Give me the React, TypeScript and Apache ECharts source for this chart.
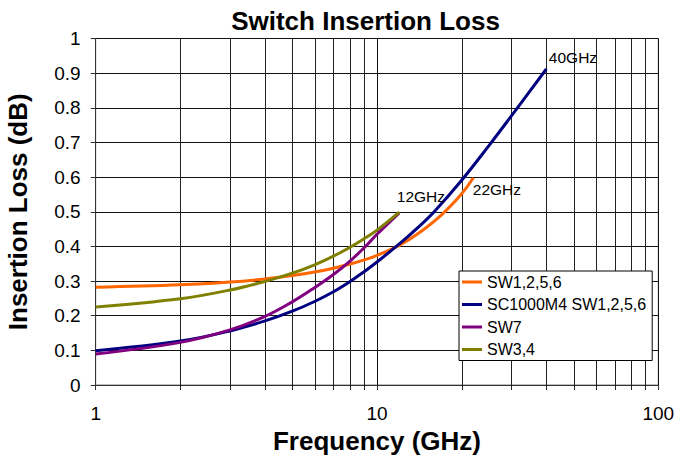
import React, { useEffect, useRef } from "react";
import * as echarts from "echarts";

const FONT = "'Liberation Sans', Arial, Helvetica, sans-serif";

const seriesNames = ["SW1,2,5,6", "SC1000M4 SW1,2,5,6", "SW7", "SW3,4"];
const seriesColors = ["#FF6600", "#000080", "#800080", "#808000"];

const freqSW1256 = [1, 2, 3, 4, 5, 6, 7, 8, 9, 10, 12, 14, 17, 20, 22];
const lossSW1256 = [0.282, 0.289, 0.297, 0.306, 0.316, 0.326, 0.337, 0.349, 0.361, 0.374, 0.403, 0.437, 0.492, 0.552, 0.598];

const freqSC1000 = [1, 2, 3, 4, 5, 6, 7, 8, 9, 10, 12, 14, 16, 20, 25, 30, 40];
const lossSC1000 = [0.099, 0.127, 0.156, 0.185, 0.213, 0.241, 0.269, 0.298, 0.327, 0.355, 0.407, 0.455, 0.501, 0.591, 0.691, 0.776, 0.912];

const freqSW7 = [1, 2, 3, 4, 5, 6, 7, 8, 9, 10, 12];
const lossSW7 = [0.0895, 0.123, 0.159, 0.198, 0.24, 0.281, 0.319, 0.357, 0.396, 0.435, 0.497];

const freqSW34 = [1, 2, 3, 4, 5, 6, 7, 8, 9, 10, 12];
const lossSW34 = [0.225, 0.249, 0.274, 0.299, 0.323, 0.347, 0.372, 0.397, 0.422, 0.447, 0.499];

const minorFreqs = [2, 3, 4, 5, 6, 7, 8, 9, 20, 30, 40, 50, 60, 70, 80, 90];

const annotations = [
  { series: 1, freq: 40, loss: 0.912, text: "40GHz", pos: [3, -11] },
  { series: 0, freq: 22, loss: 0.598, text: "22GHz", pos: [0, 12.5] },
  { series: 3, freq: 12, loss: 0.499, text: "12GHz", pos: [-2, -15.5] },
];

const zip = (xs: number[], ys: number[]) => xs.map((x, i) => [x, ys[i]]);

export default function App() {
  const ref = useRef<HTMLDivElement>(null);

  useEffect(() => {
    if (!ref.current) return;
    const chart = echarts.init(ref.current, undefined, { renderer: "svg" });

    const data = [
      zip(freqSW1256, lossSW1256),
      zip(freqSC1000, lossSC1000),
      zip(freqSW7, lossSW7),
      zip(freqSW34, lossSW34),
    ];

    const lineSeries = data.map((d, i) => {
      const ann = annotations.filter((a) => a.series === i);
      return {
        name: seriesNames[i],
        type: "line",
        data: d,
        smooth: 0.4,
        symbol: "none",
        z: 3,
        lineStyle: { color: seriesColors[i], width: 3 },
        itemStyle: { color: seriesColors[i] },
        markPoint: ann.length
          ? {
              silent: true,
              symbol: "circle",
              symbolSize: 1,
              itemStyle: { color: "rgba(0,0,0,0)" },
              data: ann.map((a) => ({
                coord: [a.freq, a.loss],
                label: {
                  show: true,
                  formatter: a.text,
                  position: a.pos,
                  align: "left",
                  verticalAlign: "middle",
                  color: "#000",
                  fontSize: 15.5,
                  fontFamily: FONT,
                },
              })),
            }
          : undefined,
      };
    });

    const option: any = {
      animation: false,
      backgroundColor: "#fff",
      textStyle: { fontFamily: FONT },
      graphic: [
        {
          type: "text",
          x: 365.5,
          y: 21,
          style: {
            text: "Switch Insertion Loss",
            fontSize: 26,
            fontWeight: "bold",
            fontFamily: FONT,
            fill: "#000",
            textAlign: "center",
            textVerticalAlign: "middle",
          },
        },
      ],
      grid: {
        left: 95.7,
        right: 16.7,
        top: 38.5,
        bottom: 71,
        outerBoundsMode: "none",
        containLabel: false,
        show: true,
        borderColor: "#808080",
        borderWidth: 1,
        backgroundColor: "#fff",
      },
      legend: {
        data: seriesNames,
        orient: "vertical",
        left: 459,
        top: 271,
        padding: [0, 6, 0, 3],
        itemGap: 0.5,
        itemWidth: 20,
        itemHeight: 3,
        icon: "rect",
        backgroundColor: "#fff",
        borderColor: "#000",
        borderWidth: 1,
        borderRadius: 0,
        textStyle: { fontSize: 16, lineHeight: 22, color: "#000", fontFamily: FONT },
      },
      xAxis: {
        type: "log",
        logBase: 10,
        min: 1,
        max: 100,
        name: "Frequency (GHz)",
        nameLocation: "middle",
        nameGap: 43,
        nameTextStyle: { fontSize: 26, fontWeight: "bold", color: "#000", fontFamily: FONT },
        axisLine: { show: true, lineStyle: { color: "#333", width: 1 } },
        axisTick: { show: true, inside: false, length: 5, lineStyle: { color: "#333" } },
        axisLabel: { fontSize: 19, color: "#000", margin: 19, fontFamily: FONT },
        splitLine: { show: true, lineStyle: { color: "#111", width: 1 } },
      },
      yAxis: {
        type: "value",
        min: 0,
        max: 1,
        interval: 0.1,
        name: "Insertion Loss (dB)",
        nameLocation: "middle",
        nameGap: 65,
        nameRotate: 90,
        nameTextStyle: {
          fontSize: 26,
          fontWeight: "bold",
          color: "#000",
          fontFamily: FONT,
        },
        axisLine: { show: true, lineStyle: { color: "#333", width: 1 } },
        axisTick: { show: true, inside: false, length: 5, lineStyle: { color: "#333" } },
        axisLabel: { fontSize: 19, color: "#000", margin: 15, fontFamily: FONT },
        splitLine: { show: true, lineStyle: { color: "#111", width: 1 } },
      },
      series: [
        {
          name: "minorGrid",
          type: "custom",
          silent: true,
          z: 1,
          clip: false,
          data: minorFreqs.map((f) => [f, 0]),
          encode: { x: 0, y: 1 },
          renderItem: (params: any, api: any) => {
            const v = api.value(0);
            const p0 = api.coord([v, 0]);
            const p1 = api.coord([v, 1]);
            const x = Math.round(p0[0]) + 0.5;
            return {
              type: "line",
              shape: { x1: x, y1: p0[1] + 5, x2: x, y2: p1[1] },
              style: { stroke: "#222", lineWidth: 1 },
              silent: true,
            };
          },
        },
        ...lineSeries,
      ],
    };

    chart.setOption(option);
    return () => chart.dispose();
  }, []);

  return (
    <div
      ref={ref}
      style={{ position: "fixed", left: 0, top: 0, width: 675, height: 456, background: "#fff" }}
    />
  );
}
